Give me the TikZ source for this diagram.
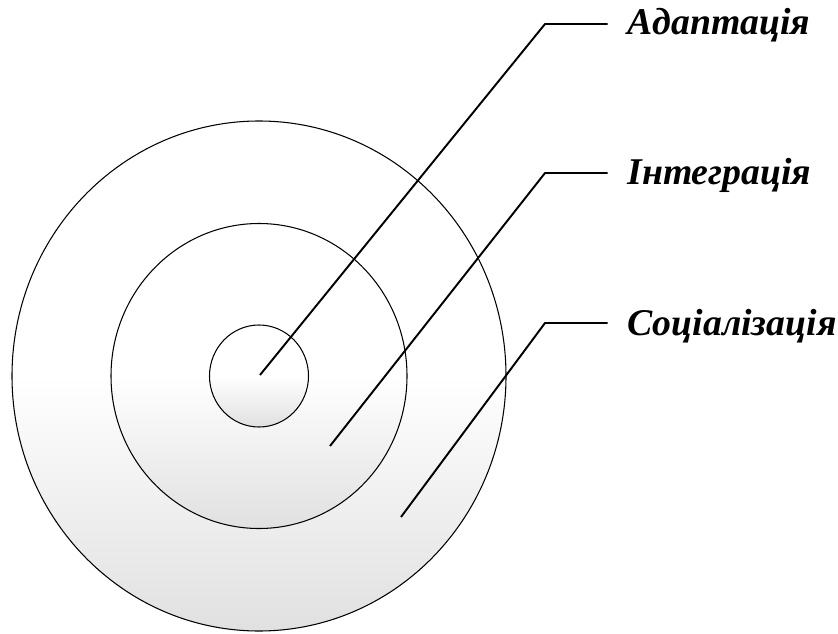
\documentclass[tikz,border=0pt]{standalone}
\usepackage{fontspec}
\setmainfont{Liberation Serif}
\usepackage{tikz}
\usetikzlibrary{positioning}

\begin{document}
\begin{tikzpicture}[
    x=0.02cm, y=0.02cm,
    ring/.style   ={draw=black, line width=0.6pt, top color=white, bottom color=black!12, middle color=white},
    lead/.style   ={draw=black, line width=1.1pt, line join=round},
    lab/.style    ={font=\fontsize{21.5}{24}\selectfont\bfseries\itshape, anchor=base west, inner sep=0pt}
  ]
    % page frame (838 x 633 px)
    \useasboundingbox (0,0) rectangle (838,633);

    % concentric rings, centre of the target
    \coordinate (ctr) at (259,257);
    \shade[ring] (ctr) ellipse [x radius=247, y radius=255];
    \shade[ring] (ctr) ellipse [x radius=148, y radius=152.5];
    \shade[ring] (ctr) ellipse [x radius=49.5, y radius=51];

    % labels
    \node[lab] (adapt) at (627,598) {Адаптація};
    \node[lab] (integr) at (627,448) {Інтеграція};
    \node[lab] (social) at (627,298) {Соціалізація};

    % inner ends and bends of the leaders
    \coordinate (endA) at (260,258);
    \coordinate (endI) at (330,187);
    \coordinate (endS) at (401,116);
    \coordinate (bendA) at (545,609);
    \coordinate (bendI) at (545,460);
    \coordinate (bendS) at (545,310);

    % leaders
    \draw[lead] (endA) -- (bendA) -- ([xshift=-11pt] bendA -| adapt.west);
    \draw[lead] (endI) -- (bendI) -- ([xshift=-11pt] bendI -| integr.west);
    \draw[lead] (endS) -- (bendS) -- ([xshift=-11pt] bendS -| social.west);
\end{tikzpicture}
\end{document}
